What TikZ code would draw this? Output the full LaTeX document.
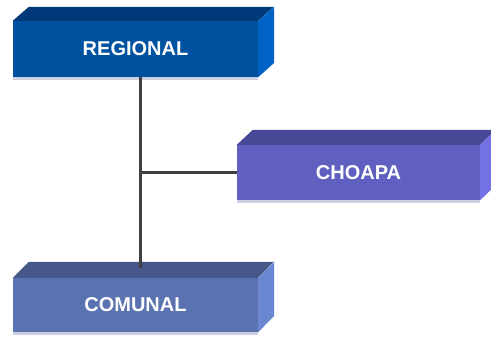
\documentclass[tikz,border=0pt]{standalone}
\usepackage{fontspec}
\setsansfont{Liberation Sans}
\usepackage{tikz}
\usetikzlibrary{positioning}

\definecolor{regfront}{RGB}{0,82,160}
\definecolor{regtop}{RGB}{0,58,122}
\definecolor{regside}{RGB}{0,98,196}
\definecolor{chofront}{RGB}{96,96,192}
\definecolor{chotop}{RGB}{72,72,150}
\definecolor{choside}{RGB}{114,114,226}
\definecolor{comfront}{RGB}{90,115,176}
\definecolor{comtop}{RGB}{70,88,138}
\definecolor{comside}{RGB}{106,136,210}
\definecolor{boxshadow}{RGB}{205,208,225}
\definecolor{linkgray}{RGB}{64,64,64}

\begin{document}
\begin{tikzpicture}[x=1pt,y=-1pt]
	\tikzset{level/.style={minimum width=245pt,minimum height=56pt,inner sep=0pt,
		font=\sffamily\bfseries\fontsize{20}{24}\selectfont,text=white}}
	\tikzset{link/.style={draw=linkgray,line width=3pt}}
	\useasboundingbox (0,0) rectangle (491,337);
	% front faces
	\node[level,fill=regfront] (reg) at (135.5,49) {REGIONAL};
	\node[level,fill=chofront,minimum width=243pt,minimum height=55pt] (cho) at (358.5,172.5) {CHOAPA};
	\node[level,fill=comfront,minimum height=54pt] (com) at (135.5,305) {COMUNAL};
	% top and side faces
	\fill[regtop] (reg.north west) -- ++(16,-14) -- ++(245,0) -- (reg.north east) -- cycle;
	\fill[regside] (reg.north east) -- ++(16,-14) -- ++(0,56) -- (reg.south east) -- cycle;
	\fill[chotop] (cho.north west) -- ++(16,-15) -- ++(243,0) -- (cho.north east) -- cycle;
	\fill[choside] (cho.north east) -- ++(16,-15) -- ++(0,55) -- (cho.south east) -- cycle;
	\fill[comtop] (com.north west) -- ++(16,-16) -- ++(245,0) -- (com.north east) -- cycle;
	\fill[comside] (com.north east) -- ++(16,-16) -- ++(0,54) -- (com.south east) -- cycle;
	% shadows
	\fill[boxshadow] (reg.south west) rectangle ++(245,3);
	\fill[boxshadow] (cho.south west) rectangle ++(243,3);
	\fill[boxshadow] (com.south west) rectangle ++(245,3);
	% links
	\coordinate (jn) at (140,172.5);
	\draw[link] (reg.south -| jn) -- ([yshift=10pt]com.north -| jn);
	\draw[link] (jn) -- (cho.west);
\end{tikzpicture}
\end{document}
